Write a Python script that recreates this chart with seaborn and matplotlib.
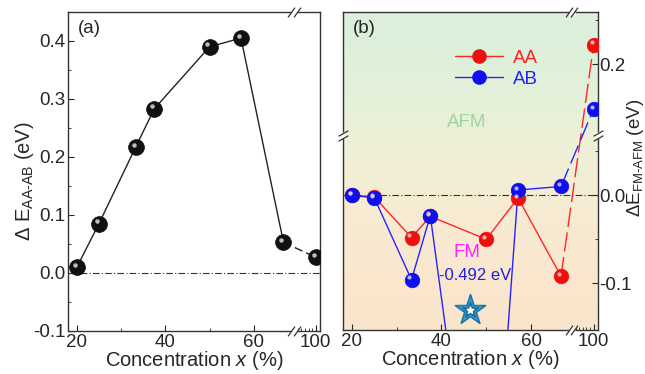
import numpy as np
import matplotlib
matplotlib.use("Agg")
import matplotlib.pyplot as plt
import matplotlib.transforms as mtransforms
from matplotlib.lines import Line2D
import pandas as pd
import seaborn as sns

# concentration x (%) of the computed structures
conc = [20, 25, 33.3, 37.5, 50, 57.1, 66.7, 100]

# (a) energy difference AA - AB stacking (eV)
de_aa_ab = [0.010, 0.085, 0.217, 0.283, 0.390, 0.405, 0.053, 0.027]

# (b) energy difference FM - AFM (eV)
de_fm_afm_aa = [0.000, -0.002, -0.048, -0.024, -0.050, -0.003, -0.092, 0.222]
de_fm_afm_ab = [0.000, -0.003, -0.096, -0.023, -0.492, 0.006, 0.010, 0.149]

# marked minimum of AB (star) and its label
star_x = [46.4]
star_y = [-0.130]
star_label = "-0.492 eV"

sns.set_style("ticks")
plt.rcParams["font.family"] = ["Liberation Sans", "DejaVu Sans"]
plt.rcParams["mathtext.fontset"] = "custom"
plt.rcParams["mathtext.rm"] = "Liberation Sans"
plt.rcParams["mathtext.it"] = "Liberation Sans:italic"
plt.rcParams["axes.unicode_minus"] = False

TICK_FS = 13.5
LAB_FS = 14.5

# broken x axis: linear up to XB, compressed after
XB = 69.0
XK = 0.161


def fx(x):
    x = np.asarray(x, float)
    return np.where(x <= XB, x, XB + (x - XB) * XK)


def ix(u):
    u = np.asarray(u, float)
    return np.where(u <= XB, u, XB + (u - XB) / XK)


# broken y axis for panel (b)
YB_LO = 0.068
YB_HI = 0.119
GAP = YB_HI - YB_LO


def fy(y):
    y = np.asarray(y, float)
    return np.where(y <= YB_LO, y, np.where(y >= YB_HI, y - GAP, YB_LO))


def iy(u):
    u = np.asarray(u, float)
    return np.where(u <= YB_LO, u, u + GAP)


def balls(ax, x, y, color, hl, size):
    # shaded sphere look: body + small highlight
    sns.scatterplot(x=x, y=y, ax=ax, s=size, color=color, edgecolor=color,
                    linewidth=0.5, zorder=4, legend=False)
    tr = mtransforms.offset_copy(ax.transData, fig=ax.figure, x=-1.5, y=1.7, units="points")
    ax.scatter(x, y, s=size * 0.08, color=hl, alpha=0.85, linewidths=0, zorder=5, transform=tr)


def break_mark(ax, x, y, trans, slant):
    tr = trans
    ax.plot([x], [y], marker="s", ms=5, color="white", mec="none", transform=tr,
            clip_on=False, zorder=6)
    for d in (-2.0, 2.0):
        if slant == "x":
            t2 = mtransforms.offset_copy(tr, fig=ax.figure, x=d, y=0, units="points")
        else:
            t2 = mtransforms.offset_copy(tr, fig=ax.figure, x=0, y=d, units="points")
        ax.plot([x], [y], marker=[(-1, -1.4), (1, 1.4)] if slant == "x" else [(-1.4, -0.8), (1.4, 0.8)],
                ms=7, mew=0.9, color="#333333", transform=t2, clip_on=False, zorder=7)


fig = plt.figure(figsize=(6.45, 3.74), dpi=100)
ax1 = fig.add_axes([0.1054, 0.115, 0.3907, 0.853])
ax2 = fig.add_axes([0.5318, 0.1176, 0.3953, 0.850])

xmaj = [20, 40, 60, 100]
xmin = [30, 50, 75, 80, 85, 90, 95]

for ax in (ax1, ax2):
    ax.set_xscale("function", functions=(fx, ix))
    ax.set_xlim(18, 106)
    ax.set_xticks(xmaj)
    ax.set_xticklabels([str(v) for v in xmaj])
    ax.set_xticks(xmin, minor=True)
    ax.set_xlabel(r"Concentration $\it{x}$ (%)", fontsize=LAB_FS, labelpad=-1)
    for sp in ax.spines.values():
        sp.set_linewidth(1.0)
        sp.set_color("#333333")
    ax.axhline(0, color="#333333", lw=0.8, ls=(0, (6, 2, 1, 2)), zorder=2)
    ax.tick_params(axis="both", which="both", direction="in", labelsize=TICK_FS, pad=2)
    ax.tick_params(which="major", length=4)
    ax.tick_params(which="minor", length=2.5)

# ---- panel (a) ----
df_a = pd.DataFrame({"x": conc, "y": de_aa_ab})
sns.lineplot(data=df_a.iloc[:7], x="x", y="y", ax=ax1, color="#222222", lw=1, sort=False,
             estimator=None, zorder=3)
sns.lineplot(data=df_a.iloc[6:], x="x", y="y", ax=ax1, color="#222222", lw=1, sort=False,
             estimator=None, zorder=3, ls=(0, (6, 3)))
balls(ax1, df_a["x"], df_a["y"], "#111111", "#dddddd", 130)
ax1.set_ylim(-0.1, 0.45)
ax1.set_yticks(np.arange(-0.1, 0.41, 0.1))
ax1.set_yticklabels(["-0.1", "0.0", "0.1", "0.2", "0.3", "0.4"])
ax1.set_yticks(np.arange(-0.05, 0.45, 0.1), minor=True)
ax1.set_ylabel(r"$\Delta$ E$_\mathregular{AA\text{-}AB}$ (eV)", fontsize=LAB_FS)
ax1.yaxis.set_label_coords(-0.125, 0.47)
ax1.tick_params(right=False, top=False, which="both")
ax1.text(0.04, 0.975, "(a)", transform=ax1.transAxes, ha="left", va="top", fontsize=TICK_FS)

# ---- panel (b) ----
ax2.set_yscale("function", functions=(fy, iy))
ax2.set_ylim(-0.153, 0.259)
grad = np.array([[0.86, 0.94, 0.86], [0.90, 0.945, 0.85], [0.955, 0.94, 0.84],
                 [0.975, 0.915, 0.82], [0.98, 0.90, 0.80]])
ax2.imshow(grad[:, None, :], extent=(0, 1, 0, 1), transform=ax2.transAxes, aspect="auto",
           interpolation="bicubic", zorder=0)
ax2.set_xlim(18, 106)

df_b = pd.DataFrame({"x": conc, "AA": de_fm_afm_aa, "AB": de_fm_afm_ab})
for col, lc, bc, hl in (("AA", "#ff2626", "#ee1010", "#ffd0d0"), ("AB", "#2525ff", "#1010ee", "#d0d0ff")):
    sns.lineplot(data=df_b.iloc[:7], x="x", y=col, ax=ax2, color=lc, lw=1, sort=False,
                 estimator=None, zorder=3)
    sns.lineplot(data=df_b.iloc[6:], x="x", y=col, ax=ax2, color=lc, lw=1, sort=False,
                 estimator=None, zorder=3, ls=(0, (14, 4)))
    balls(ax2, df_b["x"], df_b[col], bc, hl, 110)

ax2.scatter(star_x, star_y, marker="*", s=520, color="#3aa6d6", edgecolors="#1d77a8",
            linewidths=1.2, zorder=4)
ax2.scatter(star_x, star_y, marker="*", s=150, color="#1d6f9e", zorder=5)
ax2.scatter(star_x, star_y, marker="*", s=25, color="white", zorder=6)

ax2.set_yticks([-0.1, 0.0, 0.2])
ax2.set_yticklabels(["-0.1", "0.0", "0.2"])
ax2.set_yticks([-0.05, 0.05, 0.15, 0.25], minor=True)
ax2.yaxis.tick_right()
ax2.yaxis.set_label_position("right")
ax2.tick_params(axis="y", which="both", left=False, right=True, labelleft=False, labelright=True,
                pad=1)
ax2.tick_params(top=False, which="both")
ax2.set_ylabel(r"$\Delta$E$_\mathregular{FM\text{-}AFM}$ (eV)", fontsize=13.5)
ax2.yaxis.set_label_coords(1.105, 0.54)

ax2.text(0.04, 0.975, "(b)", transform=ax2.transAxes, ha="left", va="top", fontsize=TICK_FS)
ax2.text(0.486, 0.654, "AFM", transform=ax2.transAxes, ha="center", va="center",
         color="#9fd49f", fontsize=TICK_FS)
ax2.text(0.486, 0.245, "FM", transform=ax2.transAxes, ha="center", va="center",
         color="#ff22ff", fontsize=TICK_FS)
ax2.text(0.518, 0.173, star_label, transform=ax2.transAxes, ha="center", va="center",
         color="#2020e0", fontsize=12)

handles = [Line2D([], [], color="#ff2626", lw=1, marker="o", ms=9.5, mfc="#ee1010", mec="#ee1010"),
           Line2D([], [], color="#2525ff", lw=1, marker="o", ms=9.5, mfc="#1010ee", mec="#1010ee")]
leg = ax2.legend(handles, ["AA", "AB"], loc="upper right", bbox_to_anchor=(0.83, 0.935),
                 frameon=False, handlelength=2.6, handletextpad=0.5, labelspacing=0.2,
                 fontsize=TICK_FS, labelcolor=["#ff2020", "#2020ff"])

# break marks on spines
for ax in (ax1, ax2):
    tx = mtransforms.blended_transform_factory(ax.transData, ax.transAxes)
    break_mark(ax, XB + 0.3, 1.0, tx, "x")
    break_mark(ax, XB + 0.3, 0.0, tx, "x")
ty = mtransforms.blended_transform_factory(ax2.transAxes, ax2.transData)
break_mark(ax2, 0.0, YB_LO, ty, "y")
break_mark(ax2, 1.0, YB_LO, ty, "y")

fig.savefig("out.png", dpi=100)
